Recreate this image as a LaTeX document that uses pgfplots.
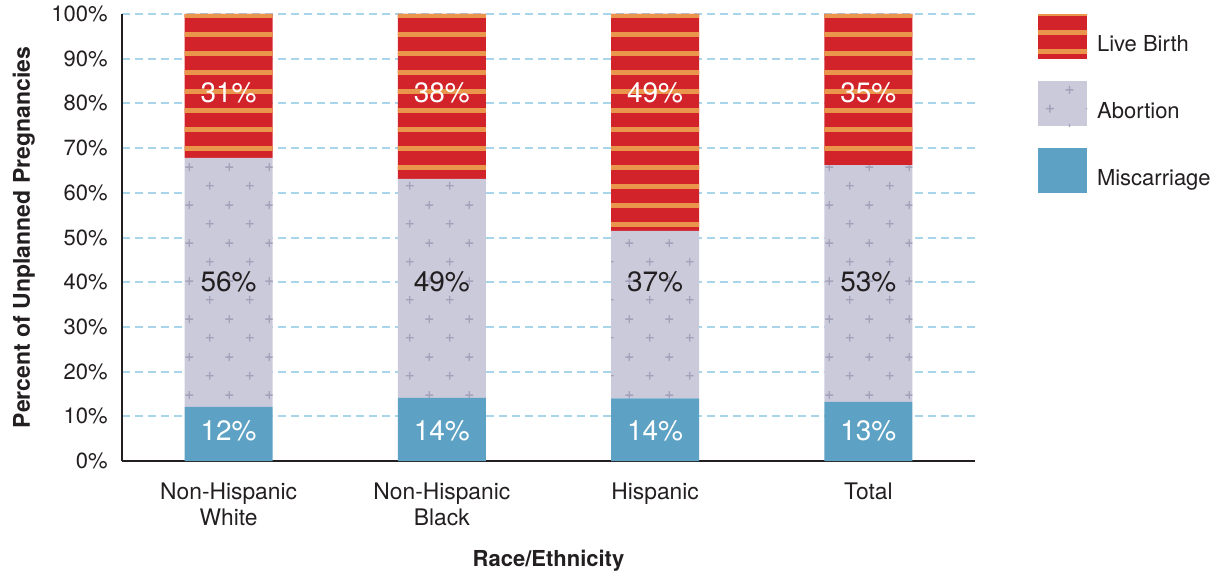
\documentclass[border=0pt]{standalone}
\usepackage{fontspec}
\setmainfont{TeX Gyre Heros}
\usepackage{pgfplots}
\pgfplotsset{compat=1.18}
\usetikzlibrary{patterns}

\definecolor{txt}{HTML}{231F20}
\definecolor{lbred}{HTML}{D3232A}
\definecolor{lborange}{HTML}{E9954C}
\definecolor{abfill}{HTML}{CBCADB}
\definecolor{abplus}{HTML}{A3A2BA}
\definecolor{miblue}{HTML}{5DA2C4}
\definecolor{gridblue}{HTML}{A9D5EA}

% little crosses, staggered, for the abortion segments
\pgfdeclarepatternformonly{pluses}{\pgfpointorigin}{\pgfpoint{20pt}{19pt}}{\pgfpoint{20pt}{19pt}}{
  \pgfsetlinewidth{0.7pt}
  \pgfpathmoveto{\pgfpoint{3pt}{4.75pt}}\pgfpathlineto{\pgfpoint{7pt}{4.75pt}}
  \pgfpathmoveto{\pgfpoint{5pt}{2.75pt}}\pgfpathlineto{\pgfpoint{5pt}{6.75pt}}
  \pgfpathmoveto{\pgfpoint{13pt}{14.25pt}}\pgfpathlineto{\pgfpoint{17pt}{14.25pt}}
  \pgfpathmoveto{\pgfpoint{15pt}{12.25pt}}\pgfpathlineto{\pgfpoint{15pt}{16.25pt}}
  \pgfusepath{stroke}
}
% horizontal bands for the live birth segments (wide tile, no seams in bars)
\pgfdeclarepatternformonly{bands}{\pgfpointorigin}{\pgfpoint{500pt}{9.65pt}}{\pgfpoint{500pt}{9.65pt}}{
  \pgfpathrectangle{\pgfpoint{0pt}{0pt}}{\pgfpoint{500pt}{2.5pt}}
  \pgfusepath{fill}
}

\pgfplotsset{
  samebox/.style={at={(0,0)}, anchor=south west,
    scale only axis, width=426.5pt, height=223.5pt,
    xmin=-0.5, xmax=3.5, ymin=0, ymax=100},
  vlab/.style={only marks, mark=none, nodes near coords,
    point meta=explicit symbolic,
    every node near coord/.style={anchor=center, inner sep=0pt,
      font=\fontsize{14}{16}\selectfont, text=#1}},
}

\begin{document}
\begin{tikzpicture}
\begin{axis}[
    samebox,
    ybar stacked, bar width=44pt,
    axis x line*=bottom, axis y line*=left,
    axis line style={txt, line width=1pt, -},
    xtick={0,1,2,3},
    xticklabels={Non-Hispanic\\White, Non-Hispanic\\Black, Hispanic, Total},
    xticklabel style={align=center, inner sep=0pt, anchor=north, yshift=-10.5pt,
      font=\fontsize{11.4}{13}\selectfont, text=txt},
    ytick={0,10,...,100},
    yticklabels={0\%,10\%,20\%,30\%,40\%,50\%,60\%,70\%,80\%,90\%,100\%},
    yticklabel style={inner sep=0pt, anchor=east, xshift=-7pt,
      font=\fontsize{11}{13}\selectfont, text=txt},
    major tick length=0pt,
    ymajorgrids,
    grid style={gridblue, line width=1pt, dash pattern=on 4pt off 2.5pt},
    xlabel={Race/Ethnicity},
    xlabel style={at={(axis description cs:0.5,-0.2237)}, anchor=center,
      font=\fontsize{11}{13}\selectfont\bfseries, text=txt},
    ylabel={Percent of Unplanned Pregnancies},
    ylabel style={at={(axis description cs:-0.1150,0.5)}, anchor=center,
      font=\fontsize{11.5}{13}\selectfont\bfseries, text=txt},
    reverse legend,
    legend image code/.code={
      \path[#1, draw=none] (0pt,-7pt) rectangle (24.5pt,15.5pt);},
    legend style={at={(1.0739,1.0)}, anchor=north west, draw=none,
      inner sep=0pt, outer sep=0pt, row sep=11pt,
      font=\fontsize{11}{13}\selectfont, text=txt,
      /tikz/every odd column/.append style={column sep=3pt}},
    legend cell align=left,
  ]
  \addplot[draw=none, fill=miblue] coordinates {
    (0,12.1) (1,14.1) (2,14.0) (3,13.2)};
  \addlegendentry{Miscarriage}
  \addplot[draw=none, fill=abfill,
    postaction={pattern=pluses, pattern color=abplus}] coordinates {
    (0,55.7) (1,49.0) (2,37.5) (3,53.0)};
  \addlegendentry{Abortion}
  \addplot[draw=none, fill=lbred,
    postaction={pattern=bands, pattern color=lborange}] coordinates {
    (0,32.2) (1,36.9) (2,48.5) (3,33.8)};
  \addlegendentry{Live Birth}
\end{axis}

% value labels, on an invisible axis of the same size
\begin{axis}[samebox, hide axis]
  \addplot[vlab=white] coordinates {
    (0,82.3) [31\%] (1,82.3) [38\%] (2,82.3) [49\%] (3,82.3) [35\%]};
  \addplot[vlab=txt] coordinates {
    (0,40) [56\%] (1,40) [49\%] (2,40) [37\%] (3,40) [53\%]};
  \addplot[vlab=white] coordinates {
    (0,6.7) [12\%] (1,6.7) [14\%] (2,6.7) [14\%] (3,6.7) [13\%]};
\end{axis}
\pgfresetboundingbox
\path (-61pt,-56.5pt) rectangle (555pt,230.5pt);
\end{tikzpicture}
\end{document}
